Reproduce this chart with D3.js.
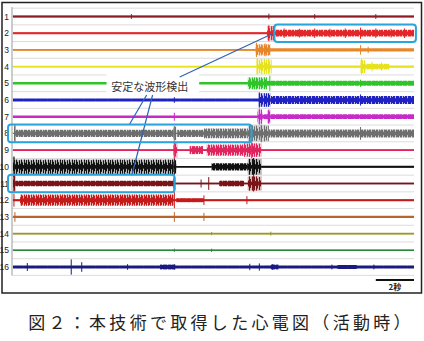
<!DOCTYPE html>
<html>
<head>
<meta charset="utf-8">
<script src="https://cdn.jsdelivr.net/npm/d3@7"></script>
<style>
  body { margin: 0; background: #fff; }
  svg { display: block; }
</style>
</head>
<body>
<svg id="chart" width="424" height="341"></svg>
<script>
// channel numbers and trace colours
const channels = d3.range(1, 17);
const colors = ['#8b1c24', '#e3262a', '#e8862a', '#e6e21e', '#2ec42a', '#1f22c0', '#c62ac8', '#6e6e6e',
                '#e0245e', '#111111', '#7a1418', '#c41a1a', '#b8652a', '#9a9a2a', '#2a8a3a', '#1a1a80'];

// noise envelope per channel: [start s, end s, half amplitude]
const env1 = [[0, 21, 0.12]];
const env2 = [[0, 13.3, 0.12], [13.3, 13.7, 0.9], [13.7, 21, 0.42]];
const env3 = [[0, 12.7, 0.12], [12.7, 13.5, 0.7], [13.5, 21, 0.2]];
const env4 = [[0, 12.75, 0.1], [12.75, 13.55, 0.95], [13.55, 21, 0.15], [18.2, 18.45, 0.8], [18.45, 19.7, 0.35]];
const env5 = [[0, 12.3, 0.15], [12.3, 13.3, 0.75], [13.3, 21, 0.32]];
const env6 = [[0, 12.85, 0.18], [12.85, 13.5, 0.85], [13.5, 21, 0.5]];
const env7 = [[0, 12.8, 0.15], [12.8, 13.05, 0.9], [13.05, 13.3, 0.3], [13.3, 13.5, 0.8], [13.5, 21, 0.3]];
const env8 = [[0.05, 0.15, 1.0], [0.15, 8.4, 0.45], [8.4, 8.55, 0.9], [8.6, 10.0, 0.45], [10.0, 12.3, 0.6], [12.3, 13.4, 1.0], [13.4, 21, 0.5]];
const env9 = [[0, 21, 0.12], [8.4, 8.6, 0.95], [9.25, 9.95, 0.5], [10.15, 12.1, 0.7], [12.1, 13.0, 0.85]];
const env10 = [[0, 0.1, 1.2], [0.1, 8.4, 0.9], [8.4, 8.55, 0.9], [8.55, 10.4, 0.1], [10.4, 12.3, 0.45], [12.3, 13.0, 1.0], [13.0, 21, 0.12]];
const env11 = [[0, 0.15, 1.0], [0.15, 8.4, 0.35], [8.4, 8.5, 0.8], [8.5, 21, 0.1], [10.8, 12.1, 0.35], [12.3, 13.0, 0.9]];
const env12 = [[0, 21, 0.12], [0.37, 8.4, 0.7], [8.55, 10.0, 0.25]];
const env13 = [[0, 21, 0.15]];
const env14 = [[0, 21, 0.1]];
const env15 = [[0, 21, 0.1]];
const env16 = [[0, 21, 0.18], [7.7, 8.5, 0.3], [13.5, 13.9, 0.3], [17.0, 18.0, 0.25]];
const envelopes = [env1, env2, env3, env4, env5, env6, env7, env8, env9, env10, env11, env12, env13, env14, env15, env16];

// single beats / artefacts: [time s, half amplitude]
const spk1 = [[6.2, 0.3], [13.4, 0.35], [15.8, 0.3], [19.0, 0.3]];
const spk2 = [[13.4, 1.0], [13.55, 0.9], [14.2, 0.6], [15.0, 0.55], [15.8, 0.6], [16.6, 0.55], [17.4, 0.6], [18.2, 0.7], [19.0, 0.6], [19.8, 0.55], [20.5, 0.6]];
const spk3 = [[12.75, 0.9], [13.2, 0.8], [18.2, 0.6], [18.6, 0.4]];
const spk4 = [[12.8, 1.0], [13.4, 0.9], [18.25, 0.95], [18.8, 0.6], [19.3, 0.5]];
const spk5 = [[13.45, 0.95], [18.2, 0.45]];
const spk6 = [[8.45, 0.35], [12.9, 0.95], [18.2, 0.7]];
const spk7 = [[8.45, 0.5], [12.9, 1.0], [13.4, 0.9]];
const spk8 = [[0.1, 1.1], [8.45, 0.9], [12.4, 1.0], [13.0, 1.1], [18.2, 0.8]];
const spk9 = [[8.45, 1.1], [12.5, 1.0]];
const spk10 = [[0.05, 1.3], [8.45, 1.0], [12.6, 1.1]];
const spk11 = [[0.05, 1.1], [8.45, 0.8], [9.85, 0.5], [10.25, 0.8], [12.6, 1.0]];
const spk12 = [[0.05, 0.8], [8.45, 1.0], [10.0, 0.6], [12.25, 0.5]];
const spk13 = [[0.1, 0.6], [8.45, 0.6], [10.0, 0.5]];
const spk14 = [[10.4, 0.2], [13.5, 0.25]];
const spk15 = [[8.45, 0.2], [10.4, 0.2]];
const spk16 = [[0.75, 0.5], [3.05, 0.95], [3.6, 0.6], [6.0, 0.35], [8.45, 0.35], [12.4, 0.4], [12.9, 0.45], [13.6, 0.35], [16.7, 0.3], [18.9, 0.3]];
const spikes = [spk1, spk2, spk3, spk4, spk5, spk6, spk7, spk8, spk9, spk10, spk11, spk12, spk13, spk14, spk15, spk16];

// highlight boxes: [channel, start s, end s]
const boxes = [[2, 13.69, 21.1], [8, -0.26, 12.49], [11, -0.26, 8.46]];
const labelText = '安定な波形検出';
const scaleBarText = '2秒';
const caption = '図２：本技術で取得した心電図（活動時）';

const svg = d3.select('#chart');

const xScale = d3.scaleLinear().domain([0, 21]).range([13, 414]);
const yScale = d3.scaleLinear().domain([1, 16]).range([16.5, 267]);
const ampScale = d3.scaleLinear().domain([0, 1]).range([0, 8]);

// hatch texture so the noise bands don't read as solid blocks
const hatch = [9, 4, 7, 2.5, 8, 5, 2, 6.5, 3, 8.5, 4.5, 1.8];
const defs = svg.append('defs');
channels.forEach((ch, i) => {
    const p = defs.append('pattern')
        .attr('id', 'tex' + ch)
        .attr('patternUnits', 'userSpaceOnUse')
        .attr('x', 0).attr('y', 0)
        .attr('width', hatch.length).attr('height', 341);
    p.append('rect')
        .attr('width', hatch.length).attr('height', 341)
        .attr('fill', colors[i]).attr('opacity', 0.3);
    p.selectAll('rect.h')
        .data(hatch)
        .join('rect')
        .attr('class', 'h')
        .attr('x', (d, k) => k)
        .attr('width', 1)
        .attr('y', d => yScale(ch) - d)
        .attr('height', d => 2 * d)
        .attr('fill', colors[i]);
});

// outer frame
svg.append('rect')
    .attr('x', 2).attr('y', 2.5)
    .attr('width', 419.5).attr('height', 290.5)
    .attr('fill', 'none')
    .attr('stroke', '#222')
    .attr('stroke-width', 1.5);

// light grid
const gridVals = d3.range(0.5, 16.6, 0.5);
svg.append('g')
    .selectAll('line')
    .data(gridVals)
    .join('line')
    .attr('x1', 12).attr('x2', xScale(21))
    .attr('y1', d => yScale(d)).attr('y2', d => yScale(d))
    .attr('stroke', '#dcdcdc')
    .attr('stroke-width', 1);

// left axis
svg.append('line')
    .attr('x1', 12).attr('x2', 12)
    .attr('y1', yScale(0.5) - 1).attr('y2', yScale(16.5))
    .attr('stroke', '#999');

// channel numbers
svg.append('g')
    .selectAll('text')
    .data(channels)
    .join('text')
    .attr('x', 9)
    .attr('y', d => yScale(d) + 3)
    .attr('text-anchor', 'end')
    .attr('font-family', 'Arial, "Liberation Sans", sans-serif')
    .attr('font-size', 8.5)
    .attr('fill', '#222')
    .text(d => d);

// traces
const band = d3.area()
    .x(d => xScale(d[0]))
    .y0(d => d[2] - ampScale(d[1]))
    .y1(d => d[2] + ampScale(d[1]));

channels.forEach((ch, i) => {
    const g = svg.append('g');
    const y0 = yScale(ch);
    const col = colors[i];

    g.append('line')
        .attr('x1', xScale(0)).attr('x2', xScale(21))
        .attr('y1', y0).attr('y2', y0)
        .attr('stroke', col)
        .attr('stroke-width', 1.3);

    for (const seg of envelopes[i]) {
        g.append('path')
            .attr('d', band([[seg[0], seg[2], y0], [seg[1], seg[2], y0]]))
            .attr('fill', `url(#tex${ch})`);
    }

    g.selectAll('line.spike')
        .data(spikes[i])
        .join('line')
        .attr('class', 'spike')
        .attr('x1', d => xScale(d[0])).attr('x2', d => xScale(d[0]))
        .attr('y1', d => y0 - ampScale(d[1])).attr('y2', d => y0 + ampScale(d[1]))
        .attr('stroke', col)
        .attr('stroke-width', 1);
});

// white patch behind the callout text
const labelT = 7.16, labelCh = 5.25;
svg.append('rect')
    .attr('x', xScale(4.9)).attr('y', yScale(4.4))
    .attr('width', xScale(9.75) - xScale(4.9))
    .attr('height', yScale(5.75) - yScale(4.4))
    .attr('fill', '#fff');

// callout lines: [from t, from ch, to t, to ch]
const callouts = [[8.73, 4.62, 13.64, 2.0], [7.0, 5.7, 6.11, 7.44], [7.31, 5.7, 6.22, 10.52]];
svg.append('g')
    .selectAll('line')
    .data(callouts)
    .join('line')
    .attr('x1', d => xScale(d[0])).attr('y1', d => yScale(d[1]))
    .attr('x2', d => xScale(d[2])).attr('y2', d => yScale(d[3]))
    .attr('stroke', '#2f62b6')
    .attr('stroke-width', 1.2);

svg.append('text')
    .attr('x', xScale(labelT))
    .attr('y', yScale(labelCh) + 4)
    .attr('text-anchor', 'middle')
    .attr('font-family', '"Noto Sans CJK JP", sans-serif')
    .attr('font-size', 11)
    .attr('fill', '#333')
    .text(labelText);

// highlight boxes
svg.append('g')
    .selectAll('rect')
    .data(boxes)
    .join('rect')
    .attr('x', d => xScale(d[1]))
    .attr('y', d => yScale(d[0]) - 8.8)
    .attr('width', d => xScale(d[2]) - xScale(d[1]))
    .attr('height', 17.6)
    .attr('rx', 3).attr('ry', 3)
    .attr('fill', 'none')
    .attr('stroke', '#2aa4dc')
    .attr('stroke-width', 2);

// 2 s scale bar
svg.append('line')
    .attr('x1', xScale(19)).attr('x2', xScale(21))
    .attr('y1', 280).attr('y2', 280)
    .attr('stroke', '#111')
    .attr('stroke-width', 1.8);
svg.append('text')
    .attr('x', xScale(20)).attr('y', 290)
    .attr('text-anchor', 'middle')
    .attr('font-family', '"Noto Sans CJK JP", sans-serif')
    .attr('font-size', 8)
    .attr('font-weight', 'bold')
    .attr('fill', '#222')
    .text(scaleBarText);

// caption
svg.append('text')
    .attr('x', 221).attr('y', 329)
    .attr('text-anchor', 'middle')
    .attr('font-family', '"Noto Sans CJK JP", sans-serif')
    .attr('font-size', 17)
    .attr('letter-spacing', 3.3)
    .attr('fill', '#222')
    .text(caption);
</script>
</body>
</html>
